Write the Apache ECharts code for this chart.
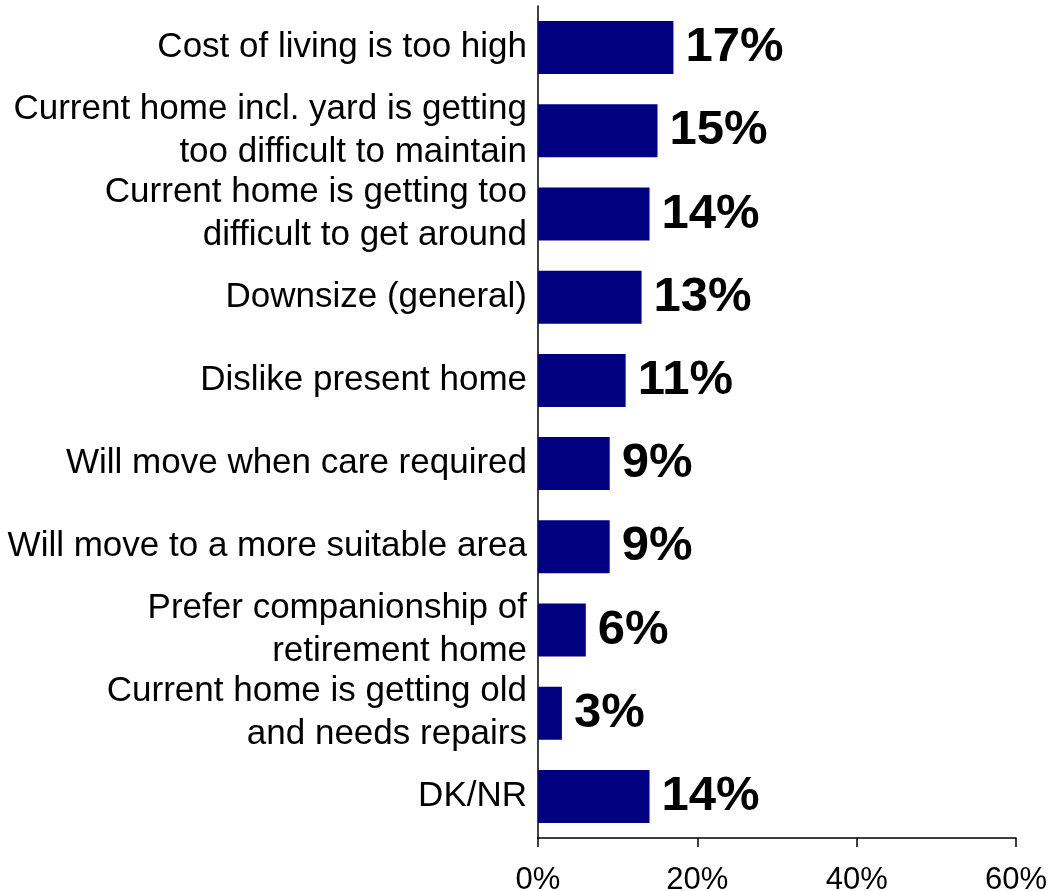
<!DOCTYPE html>
<html>
<head>
<meta charset="utf-8">
<script src="https://cdn.jsdelivr.net/npm/echarts@6/dist/echarts.min.js"></script>
<style>
html,body{margin:0;padding:0;background:#fff;}
#chart{width:1058px;height:891px;}
</style>
</head>
<body>
<div id="chart"></div>
<script>
const categories = [
  "Cost of living is too high",
  "Current home incl. yard is getting\ntoo difficult to maintain",
  "Current home is getting too\ndifficult to get around",
  "Downsize (general)",
  "Dislike present home",
  "Will move when care required",
  "Will move to a more suitable area",
  "Prefer companionship of\nretirement home",
  "Current home is getting old\nand needs repairs",
  "DK/NR"
];
const values = [17, 15, 14, 13, 11, 9, 9, 6, 3, 14];
const xTicks = [0, 20, 40, 60];

const chart = echarts.init(document.getElementById('chart'), null, {renderer: 'canvas'});
chart.setOption({
  animation: false,
  backgroundColor: '#ffffff',
  grid: {left: 538, right: 42, top: 6, bottom: 53, containLabel: false, outerBoundsMode: 'none'},
  xAxis: {
    type: 'value',
    min: xTicks[0],
    max: xTicks[xTicks.length - 1],
    interval: xTicks[1] - xTicks[0],
    splitLine: {show: false},
    axisLine: {show: true, lineStyle: {color: '#000', width: 1.5}},
    axisTick: {show: true, inside: false, length: 9, lineStyle: {color: '#000', width: 1.5}},
    axisLabel: {
      formatter: '{value}%',
      color: '#000',
      fontFamily: 'Liberation Sans, Arial, sans-serif',
      fontSize: 31,
      margin: 27
    }
  },
  yAxis: {
    type: 'category',
    data: categories,
    inverse: true,
    axisLine: {show: true, lineStyle: {color: '#000', width: 1.5}},
    axisTick: {show: false},
    splitLine: {show: false},
    axisLabel: {
      color: '#000',
      fontFamily: 'Liberation Sans, Arial, sans-serif',
      fontSize: 35,
      lineHeight: 43,
      align: 'right',
      margin: 11
    }
  },
  series: [{
    type: 'bar',
    data: values,
    barWidth: 53,
    itemStyle: {color: '#000080'},
    label: {
      show: true,
      position: 'right',
      distance: 12,
      formatter: '{c}%',
      color: '#000',
      fontWeight: 'bold',
      fontFamily: 'Liberation Sans, Arial, sans-serif',
      fontSize: 49
    }
  }]
});
</script>
</body>
</html>
